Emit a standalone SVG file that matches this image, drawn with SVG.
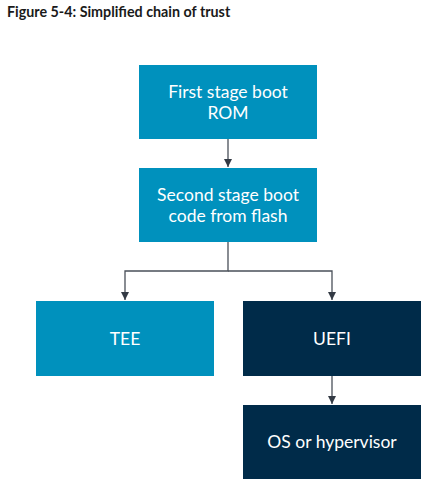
<svg xmlns="http://www.w3.org/2000/svg" width="428" height="489" viewBox="0 0 428 489">
<style>
.t{font-family:Lato,"Noto Sans","Liberation Sans",sans-serif;font-size:17.5px;fill:#ffffff;text-anchor:middle}
.title{font-family:Lato,"Noto Sans","Liberation Sans",sans-serif;font-size:14.3px;font-weight:bold;fill:#1a1a1a}
.lt{fill:#0091BD}
.dk{fill:#002B49}
.c{fill:none;stroke:#4a5059;stroke-width:1.3}
</style>
<defs>
<marker id="ah" viewBox="0 0 10 10" refX="10" refY="5" markerWidth="8" markerHeight="8" markerUnits="userSpaceOnUse" orient="auto">
<path d="M0,0 L10,5 L0,10 Z" fill="#333a44"/>
</marker>
</defs>
<rect width="428" height="489" fill="#ffffff"/>
<text class="title" x="7" y="17">Figure 5-4: Simplified chain of trust</text>
<g id="connectors">
<path class="c" d="M228,139 V167" marker-end="url(#ah)"/>
<path class="c" d="M228,242 V271 H125 V300" marker-end="url(#ah)"/>
<path class="c" d="M228,271 H332 V300" marker-end="url(#ah)"/>
<path class="c" d="M332,376 V404" marker-end="url(#ah)"/>
</g>
<g id="n1">
<rect class="lt" x="139" y="65" width="178" height="74"/>
<text class="t" x="228" y="98">First stage boot</text>
<text class="t" x="228" y="119">ROM</text>
</g>
<g id="n2">
<rect class="lt" x="139" y="168" width="178" height="74"/>
<text class="t" x="228" y="201">Second stage boot</text>
<text class="t" x="228" y="222">code from flash</text>
</g>
<g id="tee">
<rect class="lt" x="36" y="301" width="178" height="75"/>
<text class="t" x="125" y="345">TEE</text>
</g>
<g id="uefi">
<rect class="dk" x="243" y="301" width="178" height="75"/>
<text class="t" x="332" y="345">UEFI</text>
</g>
<g id="os">
<rect class="dk" x="243" y="405" width="178" height="74"/>
<text class="t" x="332" y="448">OS or hypervisor</text>
</g>
</svg>
